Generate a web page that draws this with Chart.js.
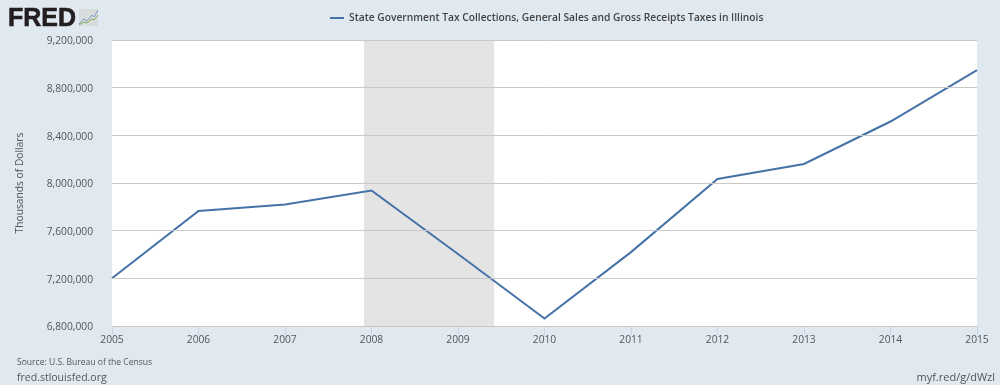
<!DOCTYPE html>
<html>
<head>
<meta charset="utf-8">
<script src="https://cdn.jsdelivr.net/npm/chart.js@4"></script>
<style>
    html, body { margin: 0; padding: 0; background: #e1e9f0; }
    body { width: 1000px; height: 385px; position: relative; overflow: hidden; font-family: "Open Sans", sans-serif; color: #555; }
    canvas { position: absolute; left: 0; top: 0; }
    .txt { position: absolute; white-space: nowrap; }
    #logo { left: 8px; top: 2px; font: 900 25px/30px "Liberation Sans", sans-serif; color: #231f20; letter-spacing: 0; -webkit-text-stroke: 0.6px #231f20; }
    #icono { position: absolute; left: 79px; top: 9px; width: 19px; height: 17px; background: #d9dcdc; overflow: hidden; }
    #leyenda { left: 349px; top: 9px; font-size: 10.25px; line-height: 17px; font-weight: 600; color: #444; }
    #marca { position: absolute; left: 330px; top: 17px; width: 14px; height: 2px; background: #4572a7; }
    #fuente { left: 17px; top: 355px; font-size: 8.55px; line-height: 14px; }
    #sitio { left: 17px; top: 369px; font-size: 10.5px; line-height: 16px; }
    #corto { right: 5px; top: 369px; font-size: 11px; line-height: 16px; }
</style>
</head>
<body>
<canvas id="grafico" width="1000" height="385"></canvas>
<div class="txt" id="logo">FRED</div>
<div id="icono"><svg width="19" height="17"><polyline points="0,15 5,10 8,12 13,6 15,8 19,1" fill="none" stroke="#7b9cc0" stroke-width="1"/><polyline points="0,16 5,13 8,14 13,10 15,11 19,6" fill="none" stroke="#7fa85a" stroke-width="1"/></svg></div>
<div id="marca"></div>
<div class="txt" id="leyenda">State Government Tax Collections, General Sales and Gross Receipts Taxes in Illinois</div>
<div class="txt" id="fuente">Source: U.S. Bureau of the Census</div>
<div class="txt" id="sitio">fred.stlouisfed.org</div>
<div class="txt" id="corto">myf.red/g/dWzl</div>
<script>
const anios = [2005, 2006, 2007, 2008, 2009, 2010, 2011, 2012, 2013, 2014, 2015];
const recaudacion = [7200000, 7765000, 7820000, 7937000, 7404000, 6863000, 7420000, 8034000, 8160000, 8516000, 8948000];
const ticksY = [6800000, 7200000, 7600000, 8000000, 8400000, 8800000, 9200000];
const recesion = [2007.91, 2009.42];

const ctx = document.getElementById('grafico').getContext('2d');
new Chart(ctx, {
    type: 'line',
    data: {
        datasets: [
            {
                label: 'State Government Tax Collections, General Sales and Gross Receipts Taxes in Illinois',
                data: anios.map((a, i) => ({ x: a, y: recaudacion[i] })),
                borderColor: '#4572a7',
                borderWidth: 2,
                pointRadius: 0,
                tension: 0,
                clip: false
            },
            {
                label: 'Recesión',
                data: recesion.map(x => ({ x, y: ticksY[ticksY.length - 1] })),
                borderWidth: 0,
                backgroundColor: '#e4e4e4',
                fill: 'start',
                pointRadius: 0
            }
        ]
    },
    options: {
        responsive: false,
        animation: false,
        layout: { padding: { left: 0, right: 23, top: 40, bottom: 0 } },
        plugins: { legend: { display: false }, tooltip: { enabled: false } },
        scales: {
            x: {
                type: 'linear',
                min: anios[0],
                max: anios[anios.length - 1],
                afterBuildTicks: axis => { axis.ticks = anios.map(value => ({ value })); },
                afterFit: axis => { axis.height = 59; },
                grid: { drawOnChartArea: false, color: '#c5d5e5', tickLength: 9 },
                border: { color: '#c5d5e5' },
                ticks: {
                    callback: v => String(v),
                    color: '#555',
                    padding: -1,
                    maxRotation: 0,
                    font: { family: 'Open Sans', size: 10.25 }
                }
            },
            y: {
                min: ticksY[0],
                max: ticksY[ticksY.length - 1],
                afterBuildTicks: axis => { axis.ticks = ticksY.map(value => ({ value })); },
                afterFit: axis => { axis.width = 112; },
                grid: { color: '#c8c8c8', drawTicks: false, z: 1 },
                border: { display: false },
                title: {
                    display: true,
                    text: 'Thousands of Dollars',
                    color: '#555',
                    padding: { top: 14, bottom: 0 },
                    font: { family: 'Open Sans', size: 10.25 }
                },
                ticks: {
                    callback: v => v.toLocaleString('en-US'),
                    color: '#555',
                    padding: 19,
                    labelOffset: 1.5,
                    font: { family: 'Open Sans', size: 10.25 }
                }
            }
        }
    },
    plugins: [{
        // fondo blanco solo en el area del grafico
        id: 'fondoArea',
        beforeDraw(chart) {
            const a = chart.chartArea;
            chart.ctx.fillStyle = '#fff';
            chart.ctx.fillRect(a.left, a.top, a.right - a.left, a.bottom - a.top);
        }
    }]
});
</script>
</body>
</html>
